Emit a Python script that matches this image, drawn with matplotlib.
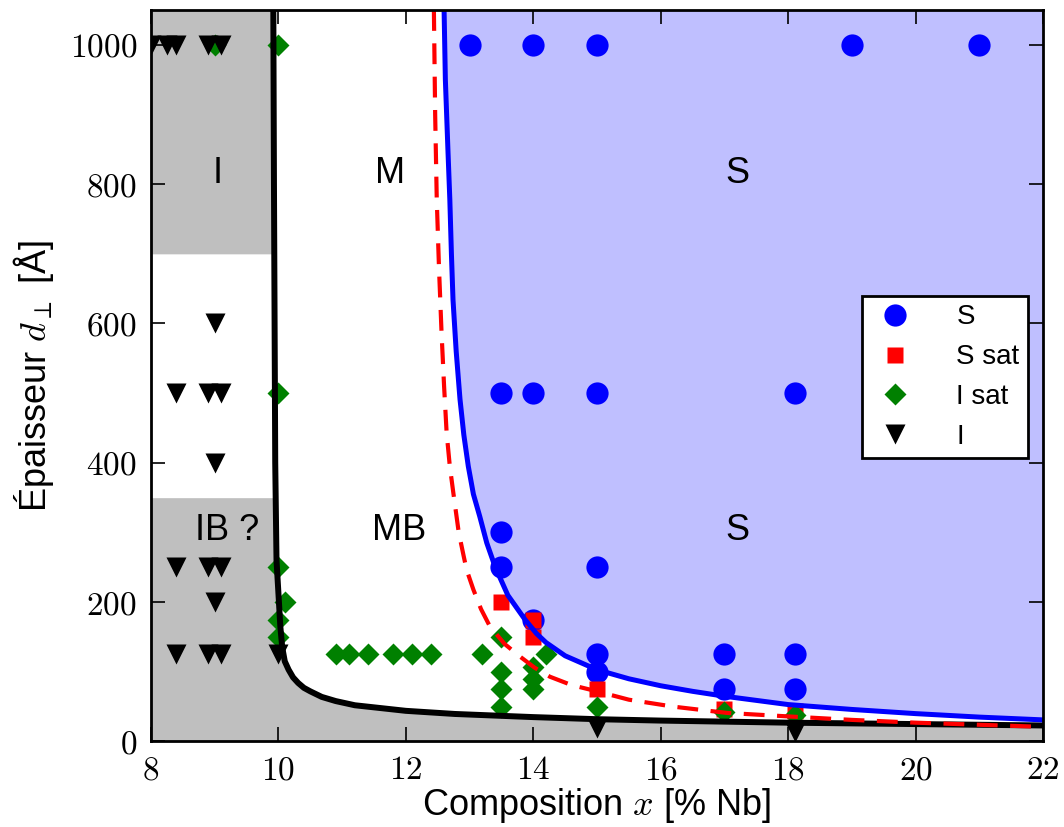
import numpy as np
import matplotlib
matplotlib.use('Agg')
import matplotlib.pyplot as plt

plt.rcParams['font.family'] = ['Liberation Sans', 'DejaVu Sans']
plt.rcParams['mathtext.fontset'] = 'cm'

# measured points: S (supraconducteur)
s_x = [13, 14, 15, 19, 21, 13.5, 14, 15, 18.1, 13.5, 13.5, 15, 14, 15, 15, 17, 17, 18.1, 18.1]
s_d = [1000, 1000, 1000, 1000, 1000, 500, 500, 500, 500, 300, 250, 250, 175, 125, 100, 125, 75, 125, 75]

# S sat
ssat_x = [13.5, 14, 14, 15, 17, 18.1]
ssat_d = [200, 175, 150, 75, 47, 44]

# I sat
isat_x = [9, 10, 10, 10, 10.1, 10, 10, 10.9, 11.1, 11.4, 11.8, 12.1, 12.4, 13.2,
          13.5, 13.5, 13.5, 13.5, 14, 14, 14, 14.2, 15, 17, 18.1]
isat_d = [1000, 1000, 500, 250, 200, 175, 150, 125, 125, 125, 125, 125, 125, 125,
          150, 100, 75, 50, 107, 90, 75, 125, 50, 42, 38]

# I (isolant)
i_x = [8.0, 8.25, 8.4, 8.9, 9.1, 9.0, 8.4, 8.9, 9.1, 9.0, 8.4, 8.9, 9.1, 9.0,
       8.4, 8.9, 9.1, 10.0, 15, 18.1]
i_d = [1000, 1000, 1000, 1000, 1000, 600, 500, 500, 500, 400, 250, 250, 250, 200,
       125, 125, 125, 125, 20, 14]

# boundary curves
black_x = [9.92, 9.93, 9.94, 9.95, 9.97, 10.0, 10.03, 10.06, 10.1, 10.16, 10.23, 10.31,
           10.4, 10.5, 10.68, 10.9, 11.2, 11.6, 12.0, 12.77, 14, 15, 16, 18, 20, 22]
black_d = [1050, 800, 600, 400, 260, 213, 165, 135, 115, 103, 92, 84,
           77, 72, 64, 58, 52, 48, 44, 39.5, 35, 32, 30, 27, 25, 23]

blue_x = [12.60, 12.62, 12.66, 12.69, 12.715, 12.74, 12.79, 12.85, 12.91, 12.98, 13.06,
          13.16, 13.27, 13.40, 13.6, 13.87, 14.05, 14.2, 14.5, 15.0, 15.5, 16, 16.5,
          17, 18, 19, 20, 21, 22]
blue_d = [1050, 950, 850, 778, 700, 634, 560, 491, 440, 395, 355,
          323, 285, 251, 210, 175, 155, 142, 123, 103, 90, 80, 72,
          65, 53, 46, 40, 35, 31]

red_x = [12.44, 12.46, 12.485, 12.52, 12.56, 12.6, 12.64, 12.69, 12.745, 12.83, 12.91,
         12.955, 13.06, 13.18, 13.32, 13.55, 13.79, 14.02, 14.26, 14.6, 15.0, 15.5,
         16.2, 17.04, 18, 19, 20, 21, 22]
red_d = [1050, 900, 778, 680, 587, 510, 443, 395, 357, 300, 265,
         246, 218, 190, 165, 140, 122, 106, 93, 81, 72, 60,
         50, 41, 36, 31, 27, 24, 21]

regions = ['I', 'M', 'S', 'IB ?', 'MB', 'S']
region_x = [9.05, 11.75, 17.2, 9.2, 11.9, 17.2]
region_d = [815, 815, 815, 303, 303, 303]

x_ticks = [8, 10, 12, 14, 16, 18, 20, 22]
y_ticks = [0, 200, 400, 600, 800, 1000]

fig = plt.figure(figsize=(10.64, 8.27), dpi=100)
ax = fig.add_axes([0.1419, 0.1034, 0.8384, 0.8845])

gray = '#bfbfbf'
# gray zones: left blocks and below the black curve
bx = np.array(black_x)
bd = np.array(black_d)
for lo, hi in [(0, 350), (700, 1050)]:
    yy = np.linspace(lo, hi, 300)
    xx = np.interp(yy, bd[::-1], bx[::-1])
    ax.fill_betweenx(yy, 8, xx, color=gray, lw=0, zorder=0)
ax.fill_between(bx, 0, bd, color=gray, lw=0, zorder=0)

# superconducting zone
ax.fill_between(blue_x, blue_d, 1050, color='#bfbfff', lw=0, zorder=0)

ax.plot(s_x, s_d, 'o', color='b', mec='none', ms=16, label='S', zorder=3)
ax.plot(ssat_x, ssat_d, 's', color='r', mec='none', ms=11.5, label='S sat', zorder=3)
ax.plot(isat_x, isat_d, 'D', color='g', mec='none', ms=11.5, label='I sat', zorder=3)
ax.plot(i_x, i_d, 'v', color='k', mec='none', ms=14, label='I', zorder=3)

ax.plot(black_x, black_d, color='k', lw=4.3, zorder=4, solid_joinstyle='round')
ax.plot(blue_x, blue_d, color='b', lw=3.6, zorder=4, solid_joinstyle='round')
ax.plot(red_x, red_d, color='r', lw=3, dashes=(5, 3), zorder=4)

for lab, xt, yt in zip(regions, region_x, region_d):
    ax.text(xt, yt, lab, fontsize=26, ha='center', va='center', zorder=5)

ax.set_xlim(8, 22)
ax.set_ylim(0, 1050)
ax.set_xticks(x_ticks)
ax.set_xticklabels(['$%d$' % t for t in x_ticks])
ax.set_yticks(y_ticks)
ax.set_yticklabels(['$%d$' % t for t in y_ticks])
ax.tick_params(direction='in', length=10, width=1.2, labelsize=24, pad=10,
               top=True, right=True)
for sp in ax.spines.values():
    sp.set_linewidth(2)
    sp.set_zorder(6)

ax.set_xlabel('Composition $x$ [% Nb]', fontsize=26, labelpad=0)
ax.set_ylabel('Épaisseur $d_\\perp$ [Å]', fontsize=26, labelpad=10)

leg = ax.legend(loc='upper right', bbox_to_anchor=(0.983, 0.609), borderaxespad=0,
                numpoints=1, fontsize=20, fancybox=False, framealpha=1,
                edgecolor='k', labelspacing=0.5, handletextpad=1.3,
                handlelength=1.8, borderpad=0.3)
leg.get_frame().set_linewidth(2)
leg.set_zorder(7)

fig.savefig('out.png', dpi=100)
